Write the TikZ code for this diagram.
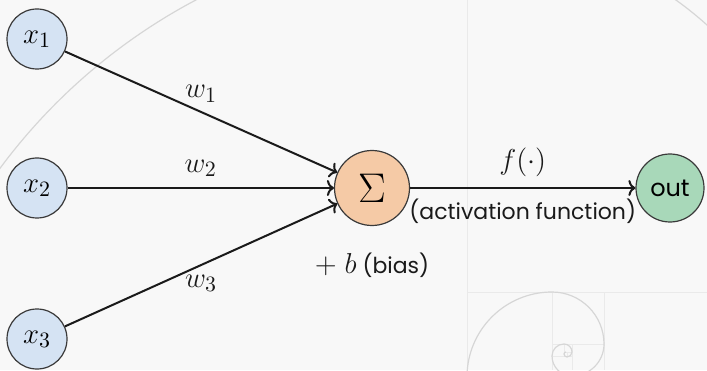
\documentclass[tikz,border=0pt]{standalone}
\usepackage[no-math]{fontspec}
\setmainfont{Poppins}
\usepackage{tikz}
\usepackage{xcolor}
\usetikzlibrary{arrows.meta,positioning}
\definecolor{paper}{HTML}{F8F8F8}
\definecolor{ink}{HTML}{1A1A1A}
\definecolor{rimgray}{HTML}{3A3A3A}
\definecolor{spiralgray}{HTML}{D6D6D6}
\definecolor{gridgray}{HTML}{EAEAEA}
\definecolor{inbg}{HTML}{D5E3F3}
\definecolor{sumbg}{HTML}{F5CAA6}
\definecolor{outbg}{HTML}{A8D8B9}
\newcommand{\eqsize}{\fontsize{15.5}{18}\selectfont}
\newcommand{\bigeqsize}{\fontsize{20}{24}\selectfont}
\newcommand{\txtsize}{\fontsize{11}{13}\selectfont}
\tikzset{
  innode/.style={circle,draw=rimgray,fill=inbg,line width=0.6pt,
                 minimum size=30pt,inner sep=0pt,font=\eqsize},
  sumnode/.style={circle,draw=rimgray,fill=sumbg,line width=0.6pt,
                  minimum size=37.5pt,inner sep=0pt,font=\bigeqsize},
  outnode/.style={circle,draw=rimgray,fill=outbg,line width=0.6pt,
                  minimum size=34pt,inner sep=0pt,font=\fontsize{12}{14}\selectfont},
  wire/.style={-{To[length=3.5pt,width=8pt]},line width=1pt,draw=ink},
  wlabel/.style={font=\eqsize,text=ink},
  tlabel/.style={font=\txtsize,text=ink}
}

\begin{document}
\begin{tikzpicture}[x=0.5pt,y=0.5pt]
  \fill[paper] (0,0) rectangle (707,370);
  \useasboundingbox (0,0) rectangle (707,370);
  \begin{scope}
    \clip (0,0) rectangle (707,370);
    \draw[gridgray,line width=0.5pt] (467,0) -- (467,370) (467,78) -- (707,78)
      (552,0) -- (552,78) (552,26) -- (604,26) (604,0) -- (604,78)
      (572,0) -- (572,26) (552,14) -- (572,14) (564,14) -- (564,26)
      (564,18) -- (572,18) (567,13) -- (567,18);
    \draw[spiralgray,line width=0.6pt] (-114,-144)
      \foreach \r/\a in {581/180,359/90,222/0,137/-90,85/180,52/90,32/0,20/-90,12/180,8/90,5/0,3/-90,2/180}
        { arc[start angle=\a,delta angle=-90,radius=\r] };
  \end{scope}

  \node[innode] (x1) at (37,331) {$x_1$};
  \node[innode] (x2) at (37,182) {$x_2$};
  \node[innode] (x3) at (37,31) {$x_3$};
  \node[sumnode] (sum) at (372,182) {$\Sigma$};
  \node[outnode] (out) at (670,182) {out};
  \node[tlabel,below=10pt of sum] (bias) {{\eqsize$+\;b$} (bias)};

  \draw[wire] (x1) -- (sum) node[wlabel,midway,above=1pt] (w1) {$w_1$};
  \draw[wire] (x2) -- (sum) node[wlabel,midway,above=2pt] (w2) {$w_2$};
  \draw[wire] (x3) -- (sum) node[wlabel,midway,below=1pt] (w3) {$w_3$};
  \draw[wire] (sum) -- (out)
    node[wlabel,midway,above=2pt] (act) {$f(\cdot)$}
    node[tlabel,midway,below=1.5pt] (actname) {(activation function)};
\end{tikzpicture}
\end{document}
